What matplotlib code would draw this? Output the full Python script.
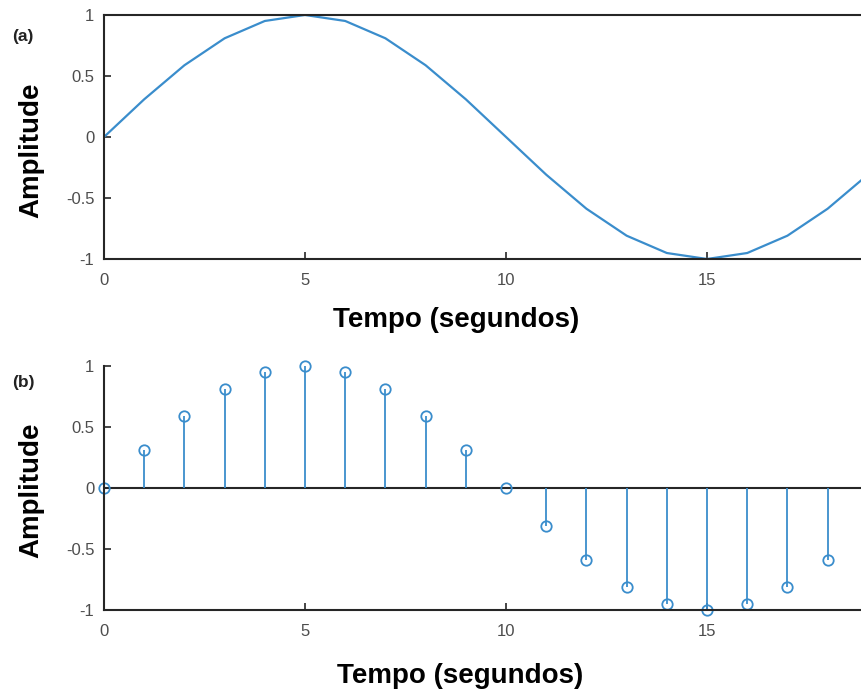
import matplotlib
matplotlib.use("Agg")
import matplotlib.pyplot as plt

# one period of a 20-sample sine, amplitude 1
t = [0, 1, 2, 3, 4, 5, 6, 7, 8, 9, 10, 11, 12, 13, 14, 15, 16, 17, 18, 19]
amp = [0.0, 0.309, 0.588, 0.809, 0.951, 1.0, 0.951, 0.809, 0.588, 0.309,
       0.0, -0.309, -0.588, -0.809, -0.951, -1.0, -0.951, -0.809, -0.588, -0.309]
xticks = [0, 5, 10, 15]
yticks = [-1, -0.5, 0, 0.5, 1]
yticklabels = ["-1", "-0.5", "0", "0.5", "1"]

BLUE = "#3a8dcc"
AXC = "#262626"
TICKC = "#4d4d4d"

plt.rcParams["font.family"] = ["Liberation Sans", "DejaVu Sans"]

fig = plt.figure(figsize=(8.61, 6.91), dpi=100)
ax1 = fig.add_axes([0.1208, 0.6252, 0.8792, 0.3531])
ax2 = fig.add_axes([0.1208, 0.1172, 0.8792, 0.3531])


def style(ax, xlab_pos, ylab_pos):
    ax.set_xlim(0, 18.83)
    ax.set_ylim(-1, 1)
    ax.set_xticks(xticks)
    ax.set_yticks(yticks)
    ax.set_yticklabels(yticklabels)
    ax.tick_params(direction="in", length=5, width=1.2, color=AXC,
                   labelcolor=TICKC, labelsize=12)
    ax.tick_params(axis="x", pad=10)
    ax.tick_params(axis="y", pad=7)
    for s in ax.spines.values():
        s.set_color(AXC)
        s.set_linewidth(1.5)
    ax.spines["right"].set_visible(False)
    ax.set_xlabel("Tempo (segundos)", fontsize=20, fontweight="bold")
    ax.set_ylabel("Amplitude", fontsize=20, fontweight="bold")
    ax.xaxis.set_label_coords(*xlab_pos)
    ax.yaxis.set_label_coords(*ylab_pos)


# (a) continuous curve
ax1.plot(t, amp, color=BLUE, lw=1.6)
style(ax1, (0.465, -0.197), (-0.079, 0.447))

# (b) sampled sequence
ml, sl, bl = ax2.stem(t, amp, basefmt=" ")
plt.setp(sl, color=BLUE, linewidth=1.3)
plt.setp(ml, color=BLUE, markerfacecolor="none", markersize=7.5,
         markeredgewidth=1.3)
ax2.axhline(0, color=AXC, lw=1.5, zorder=1)
style(ax2, (0.471, -0.218), (-0.079, 0.492))
ax2.spines["top"].set_visible(False)
for a in (ml, sl):
    a.set_clip_on(False)

fig.text(0.014, 0.94, "(a)", fontsize=12.5, fontweight="bold", color="#222222")
fig.text(0.014, 0.44, "(b)", fontsize=12.5, fontweight="bold", color="#222222")

fig.savefig("out.png", dpi=100)
